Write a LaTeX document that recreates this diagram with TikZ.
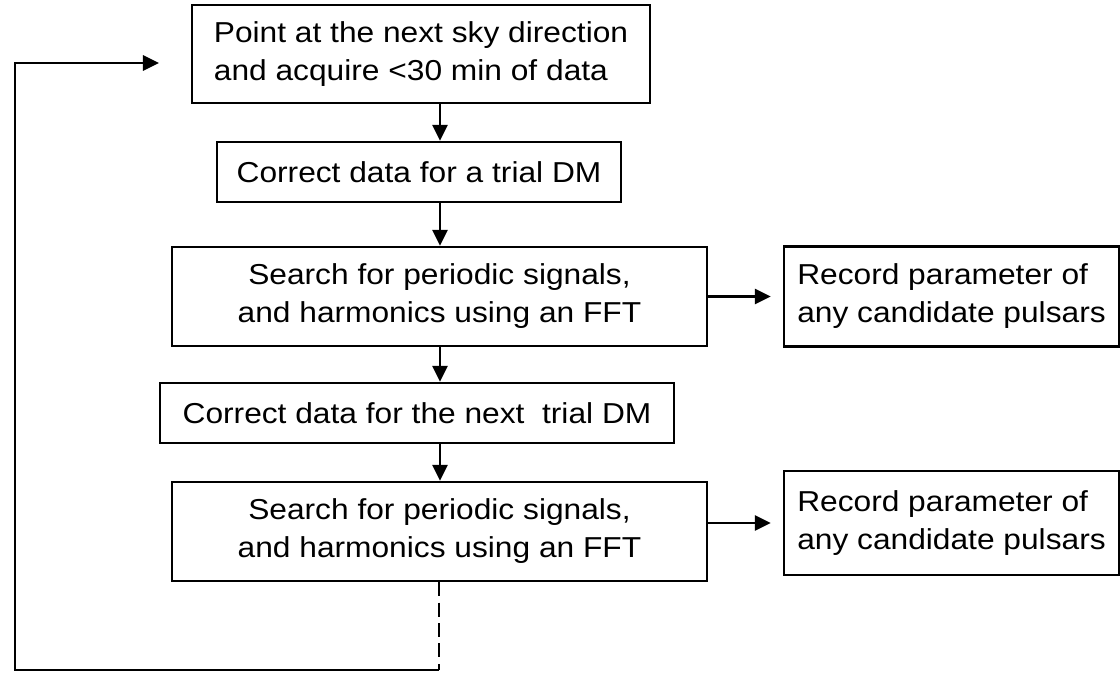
\documentclass[tikz,border=0pt]{standalone}
\usepackage{fontspec}
\setmainfont{Liberation Sans}[FakeStretch=1.1]
\usetikzlibrary{arrows.meta}

\begin{document}
\begin{tikzpicture}[x=0.025cm, y=-0.025cm,
	box/.style={draw, line width=0.06cm, align=center, inner sep=0pt,
		font=\fontsize{20.5pt}{27pt}\selectfont},
	arr/.style={line width=0.06cm, -{Triangle[length=0.4cm, width=0.38cm]}},
	loopdash/.style={line width=0.06cm, dash pattern=on 0.35cm off 0.16cm}]
	\useasboundingbox (0,0) rectangle (1120,672);
	
	%boxes
	\node[box, align=left, minimum width=11.45cm, minimum height=2.45cm]
		(point) at (421,54) {Point at the next sky direction\\and acquire <30 min of data};
	\node[box, minimum width=10.1cm, minimum height=1.5cm]
		(trial) at (419,172) {Correct data for a trial DM};
	\node[box, minimum width=13.375cm, minimum height=2.475cm]
		(search1) at (439.5,296.5) {Search for periodic signals,\\and harmonics using an FFT};
	\node[box, align=left, minimum width=8.375cm, minimum height=2.5cm]
		(record1) at (951.5,296.5) {Record parameter of\\any candidate pulsars};
	\node[box, minimum width=12.85cm, minimum height=1.5cm]
		(next) at (417,413) {Correct data for the next\ \ trial DM};
	\node[box, minimum width=13.375cm, minimum height=2.475cm]
		(search2) at (439.5,531.5) {Search for periodic signals,\\and harmonics using an FFT};
	\node[box, align=left, minimum width=8.375cm, minimum height=2.6cm]
		(record2) at (951.5,523) {Record parameter of\\any candidate pulsars};
	
	%arrows
	\coordinate (spine)   at (440,0);
	\draw[arr] (point.south -| spine)   -- (trial.north -| spine);
	\draw[arr] (trial.south -| spine)   -- (search1.north -| spine);
	\draw[arr] (search1.south -| spine) -- (next.north -| spine);
	\draw[arr] (next.south -| spine)    -- (search2.north -| spine);
	\draw[arr, shorten >=0.3cm] (search1.east |- record1.west) -- (record1.west);
	\draw[arr, shorten >=0.3cm] (search2.east |- record2.west) -- (record2.west);
	
	%loop back
	\coordinate (loopbot)  at (439,670);
	\coordinate (loopleft) at (15,670);
	\coordinate (looptip)  at (159,63);
	\draw[loopdash] (search2.south -| loopbot) -- (loopbot);
	\draw[arr] (loopbot) -- (loopleft) |- (looptip);
\end{tikzpicture}
\end{document}
